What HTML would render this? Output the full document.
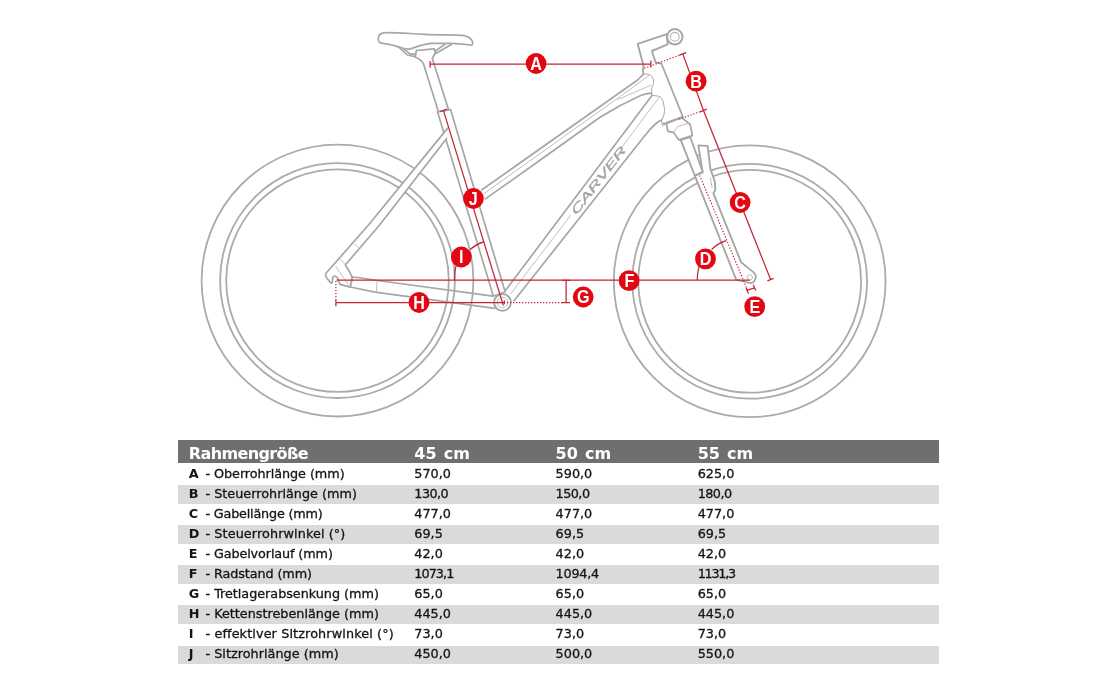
<!DOCTYPE html>
<html lang="de">
<head>
<meta charset="utf-8">
<title>Rahmengeometrie</title>
<style>
html,body{margin:0;padding:0;background:#fff;}
body{width:1119px;height:689px;position:relative;overflow:hidden;font-family:"DejaVu Sans","Liberation Sans",sans-serif;}
#bike{position:absolute;left:0;top:0;width:1119px;height:689px;}
#geo{position:absolute;left:178px;top:439.9px;width:761px;height:230px;}
#geo .hd{position:absolute;left:0;top:0;width:761px;height:23.6px;background:#706f6f;color:#fff;font-weight:bold;font-size:16px;line-height:27.4px;word-spacing:1.6px;}
#geo .hd .k{letter-spacing:-0.62px;}
#geo .row{position:absolute;left:0;width:761px;height:20px;line-height:20px;font-size:12.8px;color:#141414;-webkit-text-stroke:0.3px #141414;}
#geo .band{position:absolute;left:0;width:761px;height:18.9px;background:#dadada;}
#geo span{position:absolute;top:0;white-space:nowrap;}
#geo .k{left:10.8px;font-weight:bold;-webkit-text-stroke:0;}
#geo .l{left:27.5px;}
#geo .c1{left:236.3px;}
#geo .c2{left:377.6px;}
#geo .c3{left:519.7px;}
</style>
</head>
<body>
<svg id="bike" viewBox="0 0 1119 689" width="1119" height="689">
<defs>
<style>
.t{fill:#fff;stroke:#a6a6a6;stroke-width:1.7;stroke-linejoin:round;stroke-linecap:round;}
.n{fill:none;stroke:#a6a6a6;stroke-width:1.7;stroke-linejoin:round;stroke-linecap:round;}
.f{fill:#fff;stroke:none;}
.h{fill:none;stroke:#b4b4b4;stroke-width:0.85;stroke-linecap:round;}
.r{fill:none;stroke:#c42436;stroke-width:1.25;}
.rd{fill:none;stroke:#c42436;stroke-width:1.2;stroke-dasharray:1.3 1.7;}
.c{fill:#e50613;}
.lt{fill:#fff;font-family:"Liberation Sans",sans-serif;font-weight:bold;font-size:17px;text-anchor:middle;}
.logo{fill:#a4a4a4;stroke:#a4a4a4;stroke-width:0.35;font-family:"Liberation Sans",sans-serif;font-weight:normal;font-style:italic;font-size:11.6px;}
</style>
</defs>
<!-- wheels -->
<g class="n" style="stroke-width:1.8;stroke:#ababab">
<circle cx="337.5" cy="280.6" r="135.9"/><circle cx="337.5" cy="280.6" r="117.4"/><circle cx="337.5" cy="280.6" r="111.3"/>
<circle cx="749.7" cy="281.3" r="135.9"/><circle cx="749.7" cy="281.3" r="117.4"/><circle cx="749.7" cy="281.3" r="111.4"/>
</g>
<!-- chainstay (no fill) -->
<path class="n" d="M358,277.5 L377.7,280.5 L492.9,296.2 M340.5,284.4 L350.2,287 L375,292.2 L494.9,308.4"/>
<!-- down tube -->
<path class="f" d="M505.8,290.1 L652,95.5 C655,95.6 657.5,95.9 660,96.7 C662,98.2 663,100.5 663.6,104 C664.3,107 664.6,109.5 664.5,111.4 C664.2,115 663,117.5 662,119.6 L661.5,120 C660,120.5 658,121.8 656,123.5 C652,127 648,131.5 644.7,135.8 L514,300.8 Z"/>
<path class="n" d="M505.8,290.1 L652,95.5 M514,300.8 L644.7,135.8 C648,131.5 652,127 656,123.5 C658,121.8 660,120.5 661.5,120"/>
<path class="h" style="stroke:#a8a8a8;stroke-width:1" d="M652,95.5 C655,95.6 657.5,95.9 660,96.7 C662,98.2 663,100.5 663.6,104 C664.3,107 664.6,109.5 664.5,111.4 C664.2,115 663,117.5 662,119.6 L661.2,120.2 L662.5,125.5 L665.8,124.2"/>
<path class="h" d="M510.9,293.5 L570.5,215.5 M621.8,147.4 L658.9,97.7"/>
<!-- top tube -->
<path class="f" d="M481.9,189.8 L637.6,80 L643.4,74.2 C646,74 648,74.1 649.2,74.5 C651.5,75.8 653,77.5 653.3,79.7 C653.8,81.5 653.6,83 653.3,84.4 C652.6,86 651.8,87.5 651.6,89 C651.5,91 651.6,93 652,95.3 L651,93 C648,93.3 645,93.8 640.7,95.5 C625,102.5 610,111 600,117.3 L540,160.3 L485.4,198.9 Z"/>
<path class="n" d="M481.9,189.8 L637.6,80 L643.4,74.2 M485.4,198.9 L540,160.3 L600,117.3 C610,111 625,102.5 640.7,95.5 C645,93.8 648,93.3 651.5,93.2"/>
<path class="h" style="stroke:#a8a8a8;stroke-width:1" d="M643.4,74.2 C646,74 648,74.1 649.2,74.5 C651.5,75.8 653,77.5 653.3,79.7 C653.8,81.5 653.6,83 653.3,84.4 C652.6,86 651.8,87.5 651.6,89 C651.5,91 651.6,93 652,95.3"/>
<path class="h" d="M649,75.3 L622.5,94.8 L484,193.6 M651.4,85 L617.9,99.5"/>
<!-- seat tube -->
<path class="t" d="M437.5,111.8 L450.5,109.5 L505.1,291.7 L493.4,296.2 Z"/>
<!-- seat stay -->
<path class="f" d="M447.7,128.1 L368.5,225 L326,273.3 C325,275.5 326,277.5 327.5,279 L330.5,282.6 C331.3,283.5 332.2,283.3 332.3,282 L332.6,278.5 C332.8,276.5 334.2,275.8 335.6,276.2 C337,276.6 337.8,277.5 338,279 L339.2,282.4 C339.6,283.6 340,284.1 340.5,284.4 L350.2,287 L352.2,277.2 C350,272 347.5,268 345.3,265 L379.6,225 L446.6,138.6 Z"/>
<path class="n" d="M447.7,128.1 L368.5,225 L326,273.3 C325,275.5 326,277.5 327.5,279 L330.5,282.6 C331.3,283.5 332.2,283.3 332.3,282 L332.6,278.5 C332.8,276.5 334.2,275.8 335.6,276.2 C337,276.6 337.8,277.5 338,279 L339.2,282.4 C339.6,283.6 340,284.1 340.5,284.4 L350.2,287 L352.2,277.2 C350,272 347.5,268 345.3,265 L379.6,225 L446.6,138.6"/>
<path class="h" d="M354.8,244.2 L358.3,247.7 M340.5,259.6 L345,264.2 M335.9,266.8 L349.6,286.4 M352.9,277.9 L350.9,286.4 M377,281 L376.4,291.5"/>
<path class="n" d="M352.2,277.2 L358,277.5"/>
<!-- seat post -->
<path class="t" d="M438.3,111.6 L423.4,63.6 C421,59.5 418,58.2 415.2,57 L416.3,50.5 L434.3,48.9 L435.4,52.7 L432.3,58.5 L448.6,109.8 Z"/>
<!-- saddle rails -->
<path class="n" d="M398.5,46.8 L407.3,55 L415.2,56.6 M403.8,48.9 L409.6,53.6 L415.6,54.4 M445.2,44 L435,51.2 M451.2,44.5 L435.4,53.8"/>
<!-- saddle -->
<path class="t" d="M379,42 C377.3,38 378.5,33.5 383.5,32.9 C390,32 400,33 424.5,34.4 C440,35.2 455,34.6 462.6,35.3 C468,36 472,39 472.6,42 C473,44.5 472.5,45.2 470.5,45 C462,43.8 455,43.4 450.6,43.4 L431,43.4 C424,44 416,47 410.3,48.9 C407,49.5 404,48.6 401.6,47.8 C397,46.3 394,45.6 391.8,45 C387,44 383,43.5 380.9,42.9 Z"/>
<!-- BB -->
<circle class="t" style="stroke-width:1.9" cx="502.5" cy="302.4" r="8.4"/>
<circle class="h" cx="502.5" cy="302.5" r="5.2"/>
<!-- fork lower legs -->
<path class="t" style="stroke-width:1.85" d="M698.3,145.3 L707.6,145.9 L710.3,168.6 L713,176.2 L714.9,181.6 L715.3,190 L713.4,193.3 L741.1,262.3 L753.1,271.9 C755.5,274 756.3,276.5 755.5,278.5 C754.5,281.5 752.5,283 750.7,283 C748.5,283 746.5,282.3 745,281.5 L736.3,279.9 L694.8,175.7 L702.7,172.3 Z"/>
<circle class="h" cx="749.9" cy="277.5" r="2.6"/>
<path class="h" d="M710.4,178 L712,187.2"/>
<!-- fork stanchion -->
<path class="t" style="stroke-width:1.85" d="M680.7,139.8 L690.2,137 L702.7,171.8 L694.8,175.7 Z"/>
<!-- fork crown -->
<path class="t" d="M666.2,122.7 L667.9,131.4 L673.6,132.4 L679,139.9 L692.4,135.6 L690.2,124.5 L681.5,117.3 Z"/>
<path class="h" d="M673.6,132.4 L677.5,126.5 L689.8,123"/>
<!-- head tube -->
<path class="n" d="M642.8,68.7 L643.4,73.9 M661.4,63.5 L682.9,116.9 L665.5,123.9 L663.2,123.3"/>
<!-- stem + bar -->
<path class="t" style="stroke-width:1.9" d="M642.8,68.7 L643.8,66.7 L637.7,43.9 L666.7,34.2 L667.7,44.4 L651.9,51 L655.5,62.2 L661.4,63.5"/>
<circle class="t" style="stroke-width:2" cx="674.8" cy="36.8" r="7.7"/>
<circle class="n" cx="674.8" cy="36.8" r="4.4" style="stroke-width:1.1;stroke:#b4b4b4"/>
<!-- logo -->
<text class="logo" transform="translate(576.6,215.6) rotate(-52.6)" textLength="82.5" lengthAdjust="spacingAndGlyphs">CARVER</text>

<!-- red dimension lines -->
<g class="r">
<path d="M430.1,61 V67.8 M430.1,64.2 H650.9 M650.9,60.6 V67.5"/>
<path d="M679.4,55.2 L686.2,52.6 M682.8,53.9 L703.5,110.5 L770.6,279.5 M767.4,280.8 L773.6,278.3 M700.2,111.8 L706.8,109.2"/>
<path d="M336.5,280 H749.9"/>
<path d="M335.9,299.3 V306.2 M336.2,302.6 H504.6 M504.4,300.6 V304.2"/>
<path d="M562,280.4 H570 M566.1,280.4 V302.6 M562,302.6 H570"/>
<path d="M440.1,111.5 L447,109.2 M443.4,110.4 L502.4,302.5 L503.3,305.6"/>
<path d="M454.5,280 C454.6,268 457,260 461.4,257 M470,249.5 C474,246 478,243.5 483.5,241.8"/>
<path d="M697.3,280 C697.4,270 699,262 705.5,258.8 M711.6,249.5 C716,245 720,242.5 726.3,240.6"/>
<path d="M747.5,290.2 L754.7,287.8 M745.9,287.8 L748.5,293.6 M753.2,284.8 L755.7,290.4"/>
</g>
<g class="rd">
<path d="M335.9,281 V299.5"/>
<path d="M507,302.6 H562"/>
<path d="M644.3,68.3 L679.4,55.2"/>
<path d="M679.2,119.2 L700.5,111.6"/>
<path d="M699.7,175.4 L747.5,290.2"/>
</g>
<!-- labels -->
<g>
<circle class="c" cx="536.1" cy="63.5" r="10.4"/><text class="lt" transform="translate(536.1,63.8) scale(.95,1.03)" x="0" y="5.95">A</text>
<circle class="c" cx="696.1" cy="81.2" r="10.4"/><text class="lt" transform="translate(696.1,81.5) scale(.95,1.03)" x="0" y="5.95">B</text>
<circle class="c" cx="740.1" cy="202.5" r="10.4"/><text class="lt" transform="translate(740.1,202.8) scale(.95,1.03)" x="0" y="5.95">C</text>
<circle class="c" cx="705.5" cy="258.8" r="10.4"/><text class="lt" transform="translate(705.7,259.1) scale(.95,1.03)" x="0" y="5.95">D</text>
<circle class="c" cx="754.7" cy="306.7" r="10.4"/><text class="lt" transform="translate(754.9,307.0) scale(.95,1.03)" x="0" y="5.95">E</text>
<circle class="c" cx="629.1" cy="280.7" r="10.4"/><text class="lt" transform="translate(629.5,281.0) scale(.95,1.03)" x="0" y="5.95">F</text>
<circle class="c" cx="583.2" cy="297" r="10.4"/><text class="lt" transform="translate(583.2,297.3) scale(.95,1.03)" x="0" y="5.95">G</text>
<circle class="c" cx="419" cy="302.5" r="10.4"/><text class="lt" transform="translate(419.0,302.8) scale(.95,1.03)" x="0" y="5.95">H</text>
<circle class="c" cx="461.3" cy="257" r="10.4"/><text class="lt" transform="translate(461.3,257.3) scale(.95,1.03)" x="0" y="5.95">I</text>
<circle class="c" cx="473.4" cy="198.5" r="10.4"/><text class="lt" transform="translate(473.2,198.8) scale(.95,1.03)" x="0" y="5.95">J</text>
</g>
</svg>
<div id="geo">
<div class="hd"><span class="k">Rahmengröße</span><span class="c1">45 cm</span><span class="c2">50 cm</span><span class="c3">55 cm</span></div>
<div class="band" style="top:44.9px"></div>
<div class="band" style="top:85.1px"></div>
<div class="band" style="top:125.3px"></div>
<div class="band" style="top:165.5px"></div>
<div class="band" style="top:205.7px"></div>
<div class="row" style="top:24.0px"><span class="k">A</span><span class="l" style="letter-spacing:-0.07px">- Oberrohrlänge (mm)</span><span class="c1">570,0</span><span class="c2">590,0</span><span class="c3">625,0</span></div>
<div class="row" style="top:44.0px"><span class="k">B</span><span class="l">- Steuerrohrlänge (mm)</span><span class="c1" style="letter-spacing:-0.55px">130,0</span><span class="c2" style="letter-spacing:-0.55px">150,0</span><span class="c3" style="letter-spacing:-0.55px">180,0</span></div>
<div class="row" style="top:64.0px"><span class="k">C</span><span class="l" style="letter-spacing:-0.2px">- Gabellänge (mm)</span><span class="c1">477,0</span><span class="c2">477,0</span><span class="c3">477,0</span></div>
<div class="row" style="top:84.0px"><span class="k">D</span><span class="l" style="letter-spacing:0.09px">- Steuerrohrwinkel (°)</span><span class="c1">69,5</span><span class="c2">69,5</span><span class="c3">69,5</span></div>
<div class="row" style="top:104.0px"><span class="k">E</span><span class="l" style="letter-spacing:-0.126px">- Gabelvorlauf (mm)</span><span class="c1">42,0</span><span class="c2">42,0</span><span class="c3">42,0</span></div>
<div class="row" style="top:124.0px"><span class="k">F</span><span class="l" style="letter-spacing:-0.107px">- Radstand (mm)</span><span class="c1" style="letter-spacing:-0.95px">1073,1</span><span class="c2" style="letter-spacing:-0.25px">1094,4</span><span class="c3" style="letter-spacing:-1.25px">1131,3</span></div>
<div class="row" style="top:144.0px"><span class="k">G</span><span class="l" style="letter-spacing:-0.03px">- Tretlagerabsenkung (mm)</span><span class="c1">65,0</span><span class="c2">65,0</span><span class="c3">65,0</span></div>
<div class="row" style="top:164.0px"><span class="k">H</span><span class="l">- Kettenstrebenlänge (mm)</span><span class="c1">445,0</span><span class="c2">445,0</span><span class="c3">445,0</span></div>
<div class="row" style="top:184.0px"><span class="k">I</span><span class="l" style="letter-spacing:0.113px">- effektiver Sitzrohrwinkel (°)</span><span class="c1">73,0</span><span class="c2">73,0</span><span class="c3">73,0</span></div>
<div class="row" style="top:204.0px"><span class="k">J</span><span class="l" style="letter-spacing:0.02px">- Sitzrohrlänge (mm)</span><span class="c1">450,0</span><span class="c2">500,0</span><span class="c3">550,0</span></div>
</div>
</body>
</html>
